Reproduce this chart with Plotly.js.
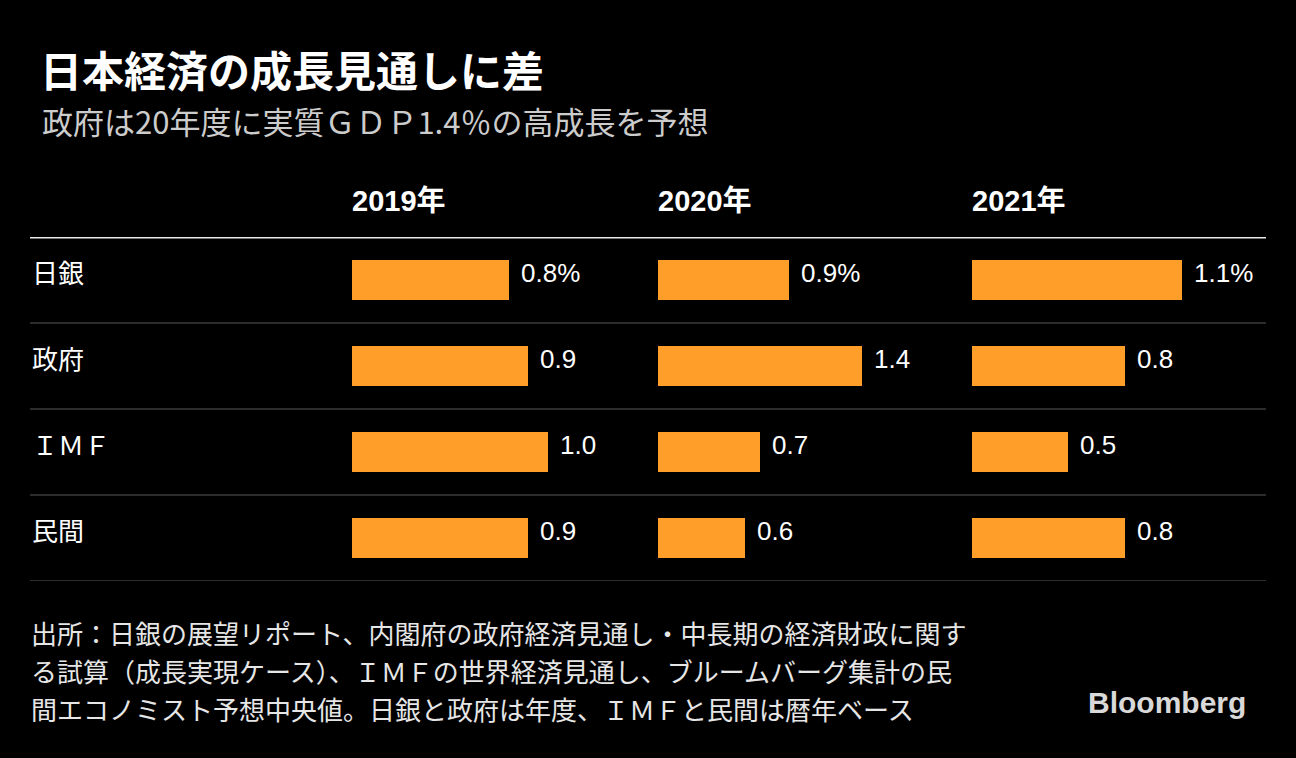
<!DOCTYPE html>
<html>
<head>
<meta charset="utf-8">
<script src="https://cdn.plot.ly/plotly-3.0.1.min.js"></script>
<style>
  html, body { margin: 0; padding: 0; background: #000; }
  #chart { width: 1296px; height: 758px; }
</style>
</head>
<body>
<div id="chart"></div>
<script>
// ---- data ----
const categories = ["日銀", "政府", "ＩＭＦ", "民間"];
const years = ["2019年", "2020年", "2021年"];
const values2019 = [0.8, 0.9, 1.0, 0.9];
const values2020 = [0.9, 1.4, 0.7, 0.6];
const values2021 = [1.1, 0.8, 0.5, 0.8];
const titleText = "日本経済の成長見通しに差";
const subtitleText = "政府は20年度に実質ＧＤＰ1.4％の高成長を予想";
const footnoteLines = [
  "出所：日銀の展望リポート、内閣府の政府経済見通し・中長期の経済財政に関す",
  "る試算（成長実現ケース）、ＩＭＦの世界経済見通し、ブルームバーグ集計の民",
  "間エコノミスト予想中央値。日銀と政府は年度、ＩＭＦと民間は暦年ベース"
];

// ---- layout helpers ----
const W = 1296, H = 758;
const px = v => v / W;
const py = v => 1 - v / H;
const series = [values2019, values2020, values2021];
const axisNames = ["x", "x2", "x3"];
const colStart = [352, 658, 972];
const colWidth = 250;
const pxPerUnit = [196, 145.7, 191];
const CJK = "Noto Sans CJK JP, sans-serif";
const LAT = "Liberation Sans, Arial, Noto Sans CJK JP, sans-serif";

const traces = series.map((vals, i) => ({
  type: "bar",
  orientation: "h",
  x: vals,
  y: categories,
  xaxis: axisNames[i],
  yaxis: "y",
  width: 0.465,
  marker: { color: "#ff9f29" },
  hoverinfo: "skip",
  showlegend: false
}));

const annotations = [];
// subtitle
annotations.push({
  text: subtitleText, xref: "paper", yref: "paper",
  x: px(40), y: py(120), xanchor: "left", yanchor: "middle",
  showarrow: false, font: { family: CJK, size: 31, color: "#cccccc" }
});
// column headers
years.forEach((yr, i) => {
  annotations.push({
    text: "<b>" + yr + "</b>", xref: axisNames[i] + " domain", yref: "paper",
    x: 0, y: py(201), xanchor: "left", yanchor: "middle", xshift: -2,
    showarrow: false, font: { family: LAT, size: 29, color: "#ffffff" }
  });
});
// row labels
categories.forEach(c => {
  annotations.push({
    text: c, xref: "paper", yref: "y",
    x: px(30), y: c, xanchor: "left", yanchor: "middle", yshift: 9,
    showarrow: false, font: { family: CJK, size: 26, color: "#ffffff" }
  });
});
// value labels
series.forEach((vals, i) => {
  vals.forEach((v, j) => {
    annotations.push({
      text: v.toFixed(1) + (j === 0 ? "%" : ""), xref: axisNames[i], yref: "y",
      x: v, y: categories[j], xanchor: "left", yanchor: "middle",
      xshift: 10, yshift: 7,
      showarrow: false, font: { family: LAT, size: 26, color: "#ffffff" }
    });
  });
});
// footnote lines
footnoteLines.forEach((line, k) => {
  annotations.push({
    text: line, xref: "paper", yref: "paper",
    x: px(30), y: py(632 + 38 * k), xanchor: "left", yanchor: "middle",
    showarrow: false, borderpad: 0,
    font: { family: CJK, size: 26, color: "#e6e6e6" }
  });
});
// logo
annotations.push({
  text: "<b>Bloomberg</b>", xref: "paper", yref: "paper",
  x: px(1248), y: py(702), xanchor: "right", yanchor: "middle",
  showarrow: false, font: { family: LAT, size: 30, color: "#d9d9d9" }
});

const shapes = [];
shapes.push({
  type: "line", xref: "paper", yref: "y", x0: px(30), x1: px(1266),
  y0: -0.5, y1: -0.5, line: { color: "#e8e8e8", width: 3 }
});
[0.5, 1.5, 2.5, 3.5].forEach(yv => {
  shapes.push({
    type: "line", xref: "paper", yref: "y", x0: px(30), x1: px(1266),
    y0: yv, y1: yv, line: { color: "#2e2b2b", width: 2 }
  });
});

const hiddenX = (i) => ({
  domain: [px(colStart[i]), px(colStart[i] + colWidth)],
  range: [0, colWidth / pxPerUnit[i]],
  visible: false, fixedrange: true, anchor: "y"
});

const layout = {
  width: W, height: H,
  margin: { l: 0, r: 0, t: 0, b: 0 },
  paper_bgcolor: "#000000",
  plot_bgcolor: "#000000",
  title: {
    text: "<b>" + titleText + "</b>",
    xref: "paper", yref: "container",
    x: px(40), y: py(72), xanchor: "left", yanchor: "middle",
    font: { family: CJK, size: 42, color: "#ffffff" }
  },
  xaxis: hiddenX(0),
  xaxis2: hiddenX(1),
  xaxis3: hiddenX(2),
  yaxis: {
    domain: [py(581), py(237)],
    type: "category",
    categoryorder: "array",
    categoryarray: categories,
    range: [3.5, -0.5],
    showticklabels: false, showgrid: false, zeroline: false, showline: false,
    fixedrange: true
  },
  bargap: 0,
  showlegend: false,
  hovermode: false,
  annotations: annotations,
  shapes: shapes
};

Plotly.newPlot("chart", traces, layout, { displayModeBar: false, staticPlot: true });
</script>
</body>
</html>
